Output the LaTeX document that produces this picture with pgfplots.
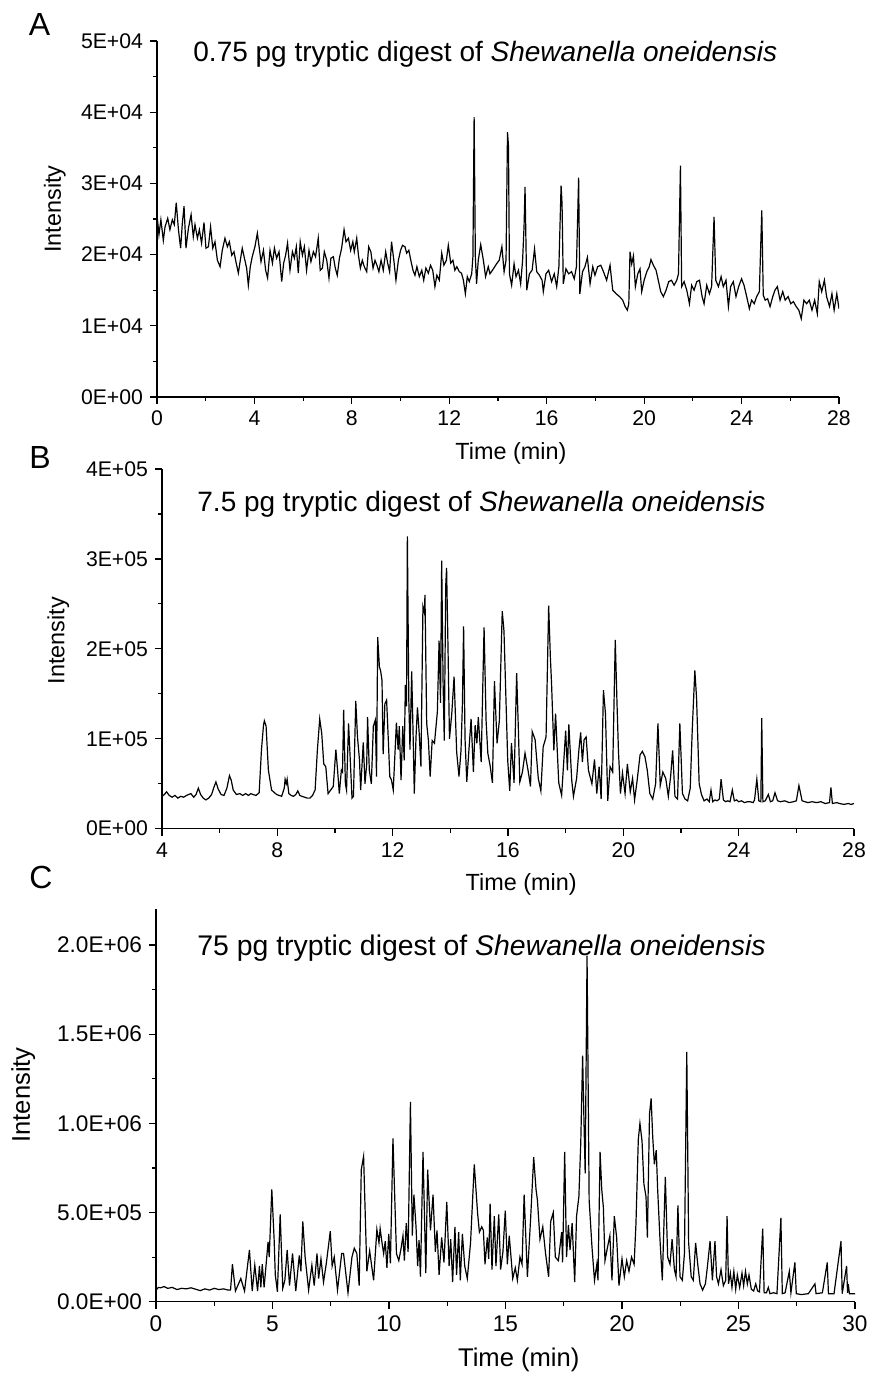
\documentclass[border=0pt]{standalone}
\usepackage{fontspec}
\setmainfont{Liberation Sans}
\usepackage{pgfplots}
\pgfplotsset{compat=1.18}
\usepackage{pgfplotstable}

\pgfplotstableread{
t v
0.00 2.56
0.08 2.28
0.16 2.49
0.26 2.20
0.33 2.39
0.44 2.51
0.53 2.35
0.63 2.49
0.71 2.42
0.79 2.73
0.88 2.35
0.97 2.09
1.04 2.44
1.11 2.68
1.19 2.09
1.29 2.37
1.40 2.56
1.49 2.25
1.56 2.42
1.66 2.23
1.74 2.35
1.83 2.16
1.93 2.45
2.01 2.09
2.11 2.11
2.20 2.39
2.29 2.09
2.38 2.18
2.48 1.92
2.59 1.83
2.68 2.06
2.79 2.23
2.89 2.11
2.97 2.18
3.07 1.99
3.16 2.04
3.24 1.90
3.34 1.74
3.42 1.92
3.50 2.09
3.59 1.95
3.68 1.81
3.75 1.57
3.83 1.83
3.91 1.97
4.02 2.11
4.12 2.30
4.20 2.09
4.27 1.90
4.37 2.06
4.46 1.78
4.54 1.67
4.64 2.06
4.74 1.88
4.82 2.09
4.91 1.95
5.01 2.04
5.12 1.62
5.20 1.88
5.28 1.99
5.36 2.16
5.46 1.78
5.56 2.04
5.64 1.95
5.72 2.11
5.80 1.74
5.88 2.18
5.97 1.99
6.05 2.11
6.14 1.78
6.24 2.06
6.32 1.90
6.42 2.04
6.51 1.97
6.62 2.23
6.70 1.78
6.79 1.81
6.87 2.04
6.97 1.92
7.06 1.67
7.14 1.95
7.24 1.97
7.32 1.81
7.40 1.71
7.49 1.95
7.58 2.09
7.68 2.35
7.76 2.18
7.86 2.23
7.95 2.06
8.04 2.18
8.10 2.04
8.20 2.23
8.27 1.99
8.35 1.81
8.43 1.92
8.51 1.83
8.61 1.76
8.69 2.11
8.78 2.04
8.87 1.81
8.95 1.92
9.03 1.85
9.11 1.76
9.20 1.92
9.29 1.78
9.39 2.04
9.47 1.88
9.55 1.76
9.63 2.18
9.73 1.90
9.81 1.64
9.91 1.92
10.00 2.06
10.08 2.13
10.18 2.11
10.25 2.02
10.34 2.06
10.42 1.92
10.51 1.78
10.59 1.71
10.67 1.83
10.77 1.69
10.87 1.78
10.95 1.64
11.04 1.81
11.14 1.74
11.23 1.85
11.32 1.78
11.41 1.55
11.49 1.71
11.59 1.64
11.69 2.02
11.78 1.85
11.88 1.92
11.96 2.13
12.06 1.88
12.15 1.92
12.23 1.78
12.31 1.83
12.41 1.76
12.50 1.74
12.58 1.64
12.66 1.45
12.74 1.69
12.82 1.62
12.92 1.73
12.97 1.97
13.02 3.93
13.07 1.97
13.12 1.59
13.19 1.92
13.29 2.14
13.40 1.92
13.49 1.69
13.60 1.83
13.67 1.73
13.81 1.80
13.94 1.87
14.05 1.92
14.16 2.11
14.25 1.76
14.33 1.92
14.39 3.72
14.43 3.53
14.47 1.73
14.56 1.57
14.66 1.87
14.74 1.69
14.84 1.78
14.93 1.59
15.01 1.92
15.07 2.40
15.11 2.95
15.18 1.50
15.29 1.73
15.40 1.78
15.50 2.08
15.59 1.76
15.70 1.71
15.81 1.64
15.86 1.48
15.97 1.73
16.08 1.78
16.20 1.62
16.31 1.73
16.41 1.55
16.50 1.83
16.59 2.97
16.63 2.71
16.68 1.59
16.79 1.80
16.90 1.73
17.02 1.76
17.13 1.66
17.22 1.83
17.31 3.08
17.36 1.45
17.47 1.76
17.57 1.83
17.67 1.96
17.78 1.59
17.89 1.83
17.98 1.71
18.09 1.83
18.22 1.85
18.33 1.76
18.46 1.64
18.60 1.85
18.71 1.50
18.85 1.45
18.99 1.41
19.12 1.36
19.22 1.27
19.31 1.22
19.37 1.31
19.42 2.04
19.49 1.87
19.56 1.98
19.64 1.55
19.74 1.73
19.83 1.80
19.90 1.48
20.00 1.64
20.11 1.76
20.21 1.83
20.28 1.93
20.38 1.85
20.49 1.78
20.58 1.64
20.68 1.48
20.79 1.41
20.90 1.50
21.01 1.62
21.12 1.64
21.23 1.57
21.34 1.64
21.41 1.73
21.49 3.25
21.54 1.55
21.64 1.62
21.75 1.50
21.86 1.31
21.95 1.57
22.05 1.50
22.16 1.62
22.27 1.64
22.38 1.41
22.46 1.31
22.57 1.57
22.68 1.45
22.77 1.55
22.87 2.53
22.94 1.64
23.05 1.55
23.16 1.69
23.25 1.55
23.36 1.64
23.46 1.27
23.55 1.55
23.66 1.62
23.77 1.41
23.88 1.55
24.00 1.66
24.10 1.57
24.21 1.41
24.32 1.24
24.41 1.36
24.52 1.31
24.62 1.41
24.73 1.48
24.83 2.62
24.89 1.43
24.97 1.36
25.07 1.38
25.17 1.27
25.28 1.41
25.37 1.50
25.47 1.55
25.58 1.36
25.69 1.48
25.79 1.36
25.91 1.41
26.02 1.31
26.13 1.34
26.24 1.27
26.35 1.22
26.45 1.10
26.56 1.36
26.67 1.31
26.78 1.36
26.89 1.22
27.00 1.36
27.11 1.17
27.19 1.62
27.29 1.48
27.40 1.64
27.49 1.41
27.61 1.27
27.71 1.45
27.80 1.22
27.91 1.45
28.00 1.24
}\dataA

\pgfplotstableread{
t v
4.00 0.36
4.08 0.38
4.16 0.41
4.25 0.37
4.35 0.35
4.45 0.37
4.55 0.34
4.65 0.36
4.75 0.35
4.85 0.37
5.00 0.39
5.10 0.35
5.18 0.38
5.26 0.45
5.34 0.38
5.43 0.34
5.52 0.32
5.62 0.34
5.72 0.38
5.80 0.46
5.87 0.52
5.95 0.44
6.05 0.38
6.15 0.37
6.25 0.45
6.34 0.59
6.40 0.54
6.47 0.43
6.58 0.38
6.70 0.39
6.80 0.37
6.90 0.39
7.00 0.37
7.08 0.39
7.16 0.38
7.26 0.37
7.37 0.40
7.45 0.88
7.52 1.15
7.55 1.20
7.61 1.14
7.69 0.65
7.80 0.43
7.90 0.40
7.98 0.38
8.06 0.37
8.15 0.36
8.24 0.45
8.27 0.55
8.31 0.50
8.34 0.55
8.40 0.39
8.48 0.37
8.56 0.36
8.64 0.38
8.71 0.42
8.78 0.37
8.85 0.36
8.95 0.35
9.04 0.34
9.13 0.34
9.22 0.37
9.31 0.43
9.39 0.88
9.47 1.22
9.54 1.06
9.61 0.72
9.68 0.69
9.76 0.39
9.85 0.43
9.94 0.47
10.03 0.88
10.09 0.65
10.15 0.39
10.22 0.65
10.26 0.63
10.30 1.32
10.36 0.50
10.40 0.43
10.47 1.17
10.52 0.83
10.59 0.34
10.64 0.36
10.72 1.42
10.78 1.02
10.85 0.76
10.89 0.43
10.98 0.96
11.04 0.50
11.10 0.72
11.13 1.24
11.19 0.65
11.26 0.50
11.33 1.14
11.40 1.21
11.44 0.58
11.48 2.13
11.54 1.80
11.58 1.76
11.63 1.65
11.67 0.83
11.73 1.39
11.79 1.43
11.85 0.98
11.90 0.58
11.96 0.54
12.02 0.43
12.13 1.18
12.19 0.88
12.23 1.14
12.29 0.54
12.35 1.14
12.40 0.76
12.44 1.60
12.48 1.36
12.51 3.25
12.56 1.43
12.60 0.88
12.66 1.75
12.72 0.88
12.75 0.39
12.81 1.02
12.86 1.35
12.92 1.06
12.98 0.69
13.05 2.47
13.10 2.40
13.12 2.60
13.18 1.17
13.24 0.98
13.30 0.58
13.37 0.98
13.45 0.95
13.55 1.30
13.61 2.09
13.66 1.40
13.70 2.98
13.75 1.60
13.79 0.98
13.84 2.70
13.87 2.90
13.92 2.00
13.97 1.00
14.05 1.28
14.13 1.69
14.22 0.85
14.30 0.58
14.37 0.87
14.42 1.40
14.46 2.25
14.51 1.00
14.57 0.52
14.65 0.90
14.72 1.22
14.80 0.63
14.86 1.15
14.92 0.95
14.97 1.24
15.07 0.74
15.12 1.50
15.17 2.24
15.24 1.20
15.30 0.84
15.38 0.70
15.46 0.51
15.53 1.64
15.62 0.95
15.70 1.20
15.80 2.42
15.86 2.20
15.90 1.76
15.99 0.76
16.06 0.42
16.12 0.95
16.21 0.51
16.30 1.73
16.36 1.10
16.41 0.52
16.50 0.63
16.59 0.84
16.70 0.64
16.78 0.47
16.84 1.08
16.94 0.99
17.05 0.56
17.14 0.42
17.22 0.91
17.32 1.02
17.41 2.48
17.47 1.90
17.51 1.62
17.59 0.87
17.65 1.28
17.76 0.51
17.86 0.37
18.00 1.09
18.06 0.65
18.11 1.16
18.21 0.54
18.27 0.36
18.38 0.56
18.46 0.88
18.52 1.07
18.58 0.74
18.64 0.99
18.71 1.02
18.79 0.65
18.91 0.50
19.00 0.77
19.08 0.39
19.16 0.69
19.23 0.33
19.31 1.54
19.38 1.28
19.46 0.31
19.54 0.69
19.63 0.63
19.72 2.10
19.78 1.40
19.83 0.87
19.90 0.39
19.97 0.62
20.06 0.39
20.14 0.72
20.24 0.41
20.32 0.56
20.39 0.32
20.48 0.54
20.58 0.82
20.66 0.86
20.75 0.80
20.83 0.65
20.92 0.39
21.02 0.33
21.12 0.50
21.20 1.17
21.28 0.48
21.37 0.63
21.47 0.56
21.56 0.36
21.64 0.58
21.71 0.87
21.79 0.36
21.88 0.33
21.96 1.17
22.05 0.39
22.14 0.33
22.23 0.31
22.32 0.45
22.39 1.10
22.48 1.76
22.54 1.45
22.63 0.50
22.71 0.38
22.80 0.31
22.90 0.33
22.98 0.30
23.04 0.43
23.10 0.30
23.18 0.32
23.25 0.31
23.33 0.33
23.39 0.55
23.47 0.32
23.55 0.30
23.62 0.31
23.70 0.30
23.78 0.43
23.85 0.31
23.93 0.32
24.00 0.30
24.10 0.31
24.20 0.29
24.30 0.30
24.40 0.30
24.50 0.29
24.55 0.32
24.63 0.55
24.70 0.31
24.77 0.30
24.80 1.23
24.84 0.30
24.92 0.31
25.03 0.38
25.10 0.30
25.18 0.31
25.26 0.40
25.35 0.31
25.45 0.30
25.60 0.31
25.75 0.29
25.90 0.30
26.00 0.31
26.09 0.48
26.20 0.31
26.30 0.30
26.40 0.29
26.55 0.30
26.70 0.29
26.85 0.30
27.00 0.28
27.15 0.29
27.20 0.46
27.25 0.28
27.40 0.29
27.50 0.28
27.65 0.27
27.80 0.28
27.90 0.27
28.00 0.28
}\dataB

\pgfplotstableread{
t v
0.00 0.065
0.10 0.080
0.20 0.078
0.35 0.085
0.50 0.075
0.70 0.080
0.90 0.068
1.10 0.075
1.30 0.072
1.50 0.078
1.70 0.070
1.90 0.062
2.10 0.072
2.30 0.065
2.50 0.075
2.70 0.068
2.90 0.072
3.10 0.065
3.20 0.066
3.28 0.21
3.41 0.06
3.64 0.13
3.80 0.06
4.01 0.29
4.13 0.06
4.24 0.205
4.36 0.06
4.44 0.20
4.50 0.08
4.56 0.21
4.64 0.08
4.73 0.215
4.81 0.335
4.86 0.25
4.97 0.63
5.07 0.35
5.12 0.15
5.21 0.056
5.33 0.49
5.44 0.075
5.53 0.12
5.63 0.29
5.73 0.09
5.86 0.27
6.00 0.06
6.15 0.26
6.22 0.17
6.30 0.45
6.40 0.25
6.55 0.065
6.69 0.205
6.79 0.09
6.91 0.27
6.98 0.13
7.08 0.24
7.19 0.11
7.31 0.215
7.48 0.395
7.56 0.20
7.65 0.25
7.79 0.065
7.97 0.27
8.05 0.27
8.24 0.05
8.41 0.25
8.51 0.30
8.62 0.27
8.72 0.09
8.81 0.74
8.91 0.815
9.05 0.17
9.17 0.285
9.34 0.12
9.48 0.405
9.57 0.33
9.62 0.41
9.70 0.33
9.77 0.27
9.84 0.34
9.91 0.19
9.99 0.38
10.06 0.215
10.17 0.915
10.32 0.27
10.42 0.23
10.52 0.30
10.60 0.37
10.66 0.23
10.74 0.44
10.82 0.28
10.92 1.12
11.00 0.37
11.07 0.60
11.16 0.42
11.23 0.20
11.29 0.345
11.35 0.14
11.46 0.84
11.58 0.16
11.66 0.74
11.78 0.40
11.89 0.60
11.99 0.28
12.06 0.40
12.15 0.15
12.26 0.36
12.36 0.22
12.48 0.56
12.58 0.20
12.65 0.35
12.73 0.11
12.83 0.42
12.90 0.15
12.99 0.39
13.06 0.12
13.15 0.38
13.25 0.20
13.36 0.13
13.50 0.33
13.66 0.77
13.80 0.50
13.88 0.39
13.98 0.42
14.05 0.40
14.12 0.21
14.22 0.36
14.28 0.24
14.34 0.55
14.42 0.18
14.52 0.48
14.59 0.20
14.71 0.49
14.79 0.18
14.89 0.28
14.99 0.51
15.08 0.21
15.16 0.37
15.25 0.23
15.31 0.13
15.42 0.19
15.51 0.12
15.62 0.25
15.71 0.21
15.80 0.60
15.94 0.14
16.08 0.47
16.21 0.81
16.31 0.63
16.37 0.57
16.48 0.35
16.60 0.42
16.72 0.27
16.85 0.14
16.94 0.45
17.05 0.50
17.14 0.25
17.27 0.23
17.41 0.39
17.45 0.22
17.54 0.84
17.62 0.25
17.70 0.43
17.77 0.29
17.86 0.44
17.97 0.11
18.05 0.48
18.15 0.59
18.23 0.89
18.31 1.38
18.37 1.00
18.42 0.72
18.50 1.94
18.59 0.57
18.71 0.31
18.82 0.12
18.92 0.21
18.97 0.12
19.06 0.84
19.13 0.63
19.20 0.53
19.27 0.23
19.37 0.30
19.48 0.37
19.57 0.12
19.67 0.48
19.77 0.36
19.87 0.09
20.00 0.24
20.10 0.14
20.20 0.23
20.30 0.17
20.41 0.25
20.52 0.21
20.60 0.44
20.70 0.91
20.77 1.00
20.86 0.90
20.94 0.66
21.03 0.59
21.09 0.36
21.18 1.05
21.25 1.14
21.32 0.92
21.39 0.77
21.47 0.85
21.53 0.63
21.63 0.35
21.73 0.12
21.86 0.70
21.96 0.25
22.06 0.21
22.15 0.35
22.25 0.18
22.32 0.14
22.40 0.54
22.49 0.14
22.59 0.12
22.68 0.27
22.78 1.40
22.86 0.33
22.97 0.14
23.06 0.12
23.16 0.33
23.25 0.21
23.35 0.10
23.46 0.065
23.58 0.10
23.66 0.19
23.78 0.34
23.88 0.12
23.99 0.34
24.06 0.14
24.14 0.10
24.25 0.18
24.35 0.09
24.45 0.12
24.51 0.48
24.57 0.10
24.65 0.16
24.72 0.08
24.80 0.17
24.88 0.07
24.95 0.15
25.05 0.08
25.15 0.16
25.22 0.09
25.30 0.17
25.38 0.10
25.45 0.15
25.55 0.07
25.65 0.06
25.74 0.10
25.82 0.06
25.90 0.055
26.04 0.41
26.10 0.05
26.20 0.05
26.28 0.08
26.35 0.045
26.50 0.05
26.65 0.045
26.82 0.47
26.88 0.045
27.00 0.05
27.18 0.17
27.25 0.05
27.42 0.22
27.48 0.045
27.70 0.04
28.00 0.045
28.28 0.10
28.33 0.045
28.60 0.05
28.81 0.22
28.86 0.045
29.10 0.045
29.40 0.34
29.45 0.045
29.64 0.20
29.68 0.05
29.71 0.10
29.76 0.045
30.00 0.045
}\dataC

\pgfplotsset{
  chrom/.style={
    scale only axis,
    anchor=south west,
    axis lines=left,
    axis line style={line width=0.75pt, -},
    tick align=outside,
    tick style={line width=0.6pt, black},
    major tick length=3.5pt,
    minor tick length=2pt,
    minor x tick num=1,
    minor y tick num=1,
    tick label style={font=\fontsize{10.6}{13}\selectfont, black},
    /pgf/number format/assume math mode=true,
    xlabel={Time (min)},
    ylabel={Intensity},
    xlabel style={at={(axis description cs:0.519,0)}, anchor=center, yshift=-28pt, font=\fontsize{11.7}{14}\selectfont},
  },
  trace/.style={black, line width=0.6pt, no markers},
}

\begin{document}
\begin{tikzpicture}
\useasboundingbox (0,0) rectangle (434.5pt,691pt);

% Panel A
\begin{axis}[chrom,
  at={(78.5pt,492.5pt)}, width=341pt, height=178pt,
  xmin=0, xmax=28, ymin=0, ymax=5,
  xtick={0,4,...,28},
  ytick={0,1,2,3,4,5},
  yticklabels={0E+00,1E+04,2E+04,3E+04,4E+04,5E+04},
  ylabel style={at={(axis description cs:-0.15,0.528)}, anchor=center, font=\fontsize{11.7}{14}\selectfont},
]
\addplot[trace] table[x=t, y=v] {\dataA};
\end{axis}

% Panel B
\begin{axis}[chrom,
  at={(81pt,276.65pt)}, width=346pt, height=179.85pt,
  xmin=4, xmax=28, ymin=0, ymax=4,
  xtick={4,8,...,28},
  ytick={0,1,2,3,4},
  yticklabels={0E+00,1E+05,2E+05,3E+05,4E+05},
  ylabel style={at={(axis description cs:-0.15,0.523)}, anchor=center, font=\fontsize{11.7}{14}\selectfont},
]
\addplot[trace] table[x=t, y=v] {\dataB};
\end{axis}

% Panel C
\begin{axis}[chrom,
  at={(78pt,40.15pt)}, width=349.5pt, height=196.2pt,
  xmin=0, xmax=30, ymin=0, ymax=2.2,
  xtick={0,5,...,30},
  ytick={0,0.5,1,1.5,2},
  yticklabels={0.0E+00,5.0E+05,1.0E+06,1.5E+06,2.0E+06},
  tick label style={font=\fontsize{11.3}{13}\selectfont},
  xlabel style={yshift=-1pt, font=\fontsize{12.8}{15}\selectfont},
  ylabel style={at={(axis description cs:-0.19,0.527)}, anchor=center, font=\fontsize{12.8}{15}\selectfont},
]
\addplot[trace] table[x=t, y=v] {\dataC};
\end{axis}

% Titles
\node[anchor=base west, font=\fontsize{14}{16}\selectfont, inner sep=0pt] at (96.5pt,660pt) {0.75 pg tryptic digest of \textit{Shewanella oneidensis}};
\node[anchor=base west, font=\fontsize{14}{16}\selectfont, inner sep=0pt] at (98.5pt,435pt) {7.5 pg tryptic digest of \textit{Shewanella oneidensis}};
\node[anchor=base west, font=\fontsize{14.2}{16}\selectfont, inner sep=0pt] at (98.5pt,213pt) {75 pg tryptic digest of \textit{Shewanella oneidensis}};

% Panel letters
\node[font=\fontsize{16}{18}\selectfont, inner sep=0pt] at (19.75pt,678.5pt) {A};
\node[font=\fontsize{16}{18}\selectfont, inner sep=0pt] at (20pt,462pt) {B};
\node[font=\fontsize{16}{18}\selectfont, inner sep=0pt] at (20.5pt,252.5pt) {C};
\end{tikzpicture}
\end{document}
